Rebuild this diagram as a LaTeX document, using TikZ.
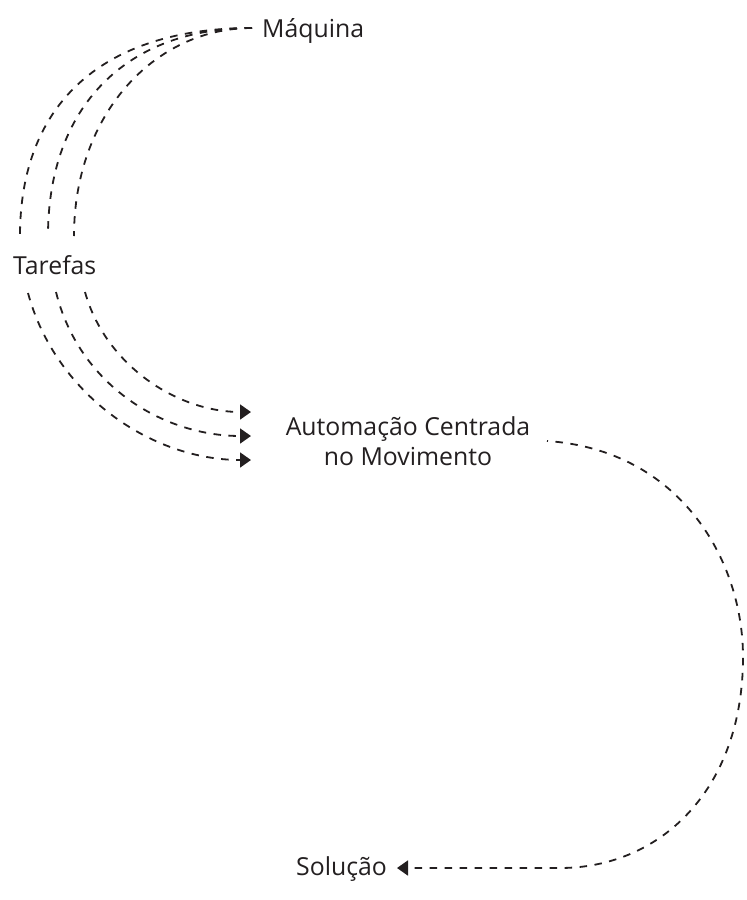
\documentclass[tikz,border=0pt]{standalone}
\usepackage{fontspec}
\setmainfont{Open Sans}
\usetikzlibrary{arrows.meta}
\definecolor{ink}{HTML}{231F20}
\begin{document}
\begin{tikzpicture}[x=1pt,y=-1pt,
  lbl/.style={font=\fontsize{24.8}{30}\selectfont, inner sep=0pt, text=ink},
  dl/.style={draw=ink, line width=1.8pt, dash pattern=on 7.5pt off 7.5pt},
  arr/.style={dl, -{Triangle[length=11pt,width=15pt]}}]
\useasboundingbox (0,0) rectangle (747,900);
% labels
\node[lbl, anchor=base west] (maq) at (262,37) {Máquina};
\node[lbl, anchor=base west] (taref) at (13,274) {Tarefas};
\node[lbl, align=center] (auto) at (408,441) {Automação Centrada\\no Movimento};
\node[lbl, anchor=base west] (sol) at (296,875) {Solução};
% connector ends
\coordinate (mq) at (252,28);
\coordinate (t1) at (20,236);
\coordinate (t2) at (48,236);
\coordinate (t3) at (74,236);
\coordinate (b1) at (28,293);
\coordinate (b2) at (56,292);
\coordinate (b3) at (85,292);
\coordinate (a1) at (251,412);
\coordinate (a2) at (251,436);
\coordinate (a3) at (251,460);
\coordinate (as) at (547,441);
\coordinate (ar) at (743,657);
\coordinate (sb) at (560,868);
\coordinate (se) at (397,868);
% Máquina -> Tarefas
\draw[dl] (mq) .. controls (103.5,28) and (20,103) .. (t1);
\draw[dl] (mq) .. controls (126,28) and (48,107) .. (t2);
\draw[dl] (mq) .. controls (154,28) and (74,115) .. (t3);
% Tarefas -> Automação
\draw[arr] (b1) .. controls (55,393) and (150,460) .. (a3);
\draw[arr] (b2) .. controls (79,385) and (163,436) .. (a2);
\draw[arr] (b3) .. controls (105,364) and (176,412) .. (a1);
% Automação -> Solução
\draw[arr, dash phase=6.5pt] (as) .. controls (680,450) and (743,560) .. (ar)
  .. controls (743,790) and (660,868) .. (sb) -- (se);
\end{tikzpicture}
\end{document}
